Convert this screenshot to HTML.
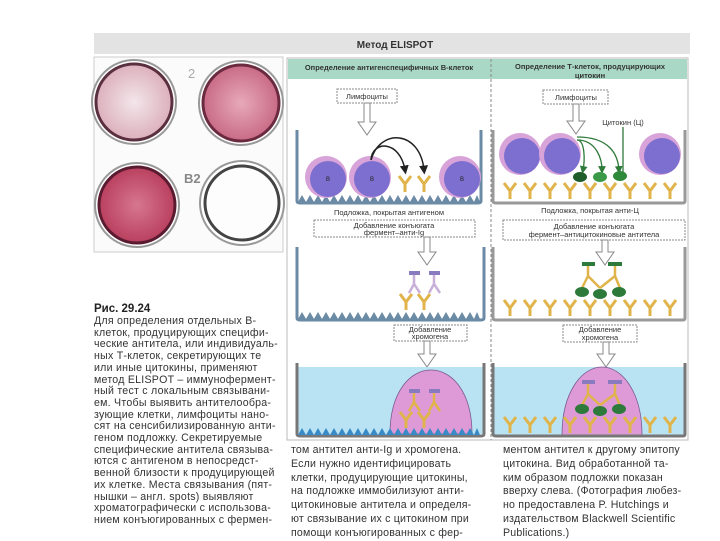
<!DOCTYPE html>
<html><head><meta charset="utf-8"><style>
html,body{margin:0;padding:0;background:#fff;}
body{width:720px;height:540px;position:relative;overflow:hidden;font-family:"Liberation Sans",sans-serif;}
.t{position:absolute;font-size:10.4px;color:#333;white-space:nowrap;}
</style></head><body>
<svg width="720" height="540" style="position:absolute;left:0;top:0" font-family="Liberation Sans, sans-serif">
<defs>
<radialGradient id="w1"><stop offset="0" stop-color="#f3e6ea"/><stop offset="1" stop-color="#dcb0bd"/></radialGradient>
<radialGradient id="w2"><stop offset="0" stop-color="#e7a9b9"/><stop offset="1" stop-color="#c96b86"/></radialGradient>
<radialGradient id="w3"><stop offset="0" stop-color="#d77690"/><stop offset="1" stop-color="#b9405f"/></radialGradient>
<marker id="ab" markerWidth="6" markerHeight="6" refX="3" refY="3" orient="auto"><path d="M0,0L6,3L0,6z" fill="#222"/></marker>
<marker id="ag" markerWidth="6" markerHeight="6" refX="3" refY="3" orient="auto"><path d="M0,0L6,3L0,6z" fill="#2e7a3a"/></marker>
<g id="Y"><path d="M0,0V-8M0,-8L-6,-16M0,-8L6,-16" stroke="#e0b44a" stroke-width="3" fill="none"/></g>
<g id="cell"><circle r="21" fill="#d8a3d8"/><circle cx="2" cy="2" r="18" fill="#7d6fcf"/></g>
<path id="wave" d="M0,0 l4,-7 l4,7 l4,-7 l4,7 l4,-7 l4,7 l4,-7 l4,7 l4,-7 l4,7 l4,-7 l4,7 l4,-7 l4,7 l4,-7 l4,7 l4,-7 l4,7 l4,-7 l4,7 l4,-7 l4,7 l4,-7 l4,7 l4,-7 l4,7 l4,-7 l4,7 l4,-7 l4,7 l4,-7 l4,7 l4,-7 l4,7 l4,-7 l4,7 l4,-7 l4,7 l4,-7 l4,7 l4,-7 l4,7 l4,-7 l4,7 l3,-7 l3,7 z"/>
</defs>
<rect x="94" y="33" width="596" height="21" fill="#e3e3e3"/>
<text x="395" y="48" font-size="10" font-weight="bold" fill="#333" text-anchor="middle">Метод ELISPOT</text>
<rect x="94" y="57" width="189" height="195" fill="#fbfbfb" stroke="#ccc"/>
<circle cx="134" cy="102" r="42" fill="#fff" stroke="#999" stroke-width="2"/>
<circle cx="134" cy="102" r="38" fill="url(#w1)" stroke="#5a3040" stroke-width="3"/>
<circle cx="241" cy="103" r="42" fill="#fff" stroke="#999" stroke-width="2"/>
<circle cx="241" cy="103" r="38" fill="url(#w2)" stroke="#6a2a40" stroke-width="3"/>
<circle cx="137" cy="205" r="42" fill="#fff" stroke="#999" stroke-width="2"/>
<circle cx="137" cy="205" r="38" fill="url(#w3)" stroke="#5a1a30" stroke-width="3"/>
<circle cx="242" cy="203" r="42" fill="#fff" stroke="#999" stroke-width="2"/>
<circle cx="242" cy="203" r="37" fill="#fdfdfd" stroke="#444" stroke-width="3"/>
<text x="188" y="78" font-size="13" fill="#aaa">2</text>
<text x="184" y="183" font-size="13" font-weight="bold" fill="#888">B2</text>
<rect x="287" y="58" width="401" height="382" fill="#fff" stroke="#bbb"/>
<rect x="288" y="59" width="399" height="20" fill="#a9d8c6"/>
<line x1="491" y1="59" x2="491" y2="440" stroke="#888" stroke-dasharray="3,2"/>
<text x="389" y="70" font-size="7.5" font-weight="bold" fill="#333" text-anchor="middle">Определение антигенспецифичных В-клеток</text>
<text x="590" y="69" font-size="7.5" font-weight="bold" fill="#333" text-anchor="middle">Определение Т-клеток, продуцирующих</text>
<text x="590" y="78" font-size="7.5" font-weight="bold" fill="#333" text-anchor="middle">цитокин</text>
<g font-size="7.5" fill="#333" text-anchor="middle">
<rect x="337" y="89" width="60" height="14" fill="#fff" stroke="#888" stroke-dasharray="2,1"/><text x="367" y="99">Лимфоциты</text>
<rect x="543" y="90" width="65" height="14" fill="#fff" stroke="#888" stroke-dasharray="2,1"/><text x="576" y="100">Лимфоциты</text>
<text x="623" y="125">Цитокин (Ц)</text>
<text x="389" y="215">Подложка, покрытая антигеном</text>
<text x="590" y="213">Подложка, покрытая анти-Ц</text>
<rect x="314" y="220" width="161" height="17" fill="#fff" stroke="#888" stroke-dasharray="2,1"/>
<text x="394" y="228">Добавление конъюгата</text><text x="394" y="235">фермент–анти-Ig</text>
<rect x="503" y="220" width="182" height="20" fill="#fff" stroke="#888" stroke-dasharray="2,1"/>
<text x="594" y="229">Добавление конъюгата</text><text x="594" y="237">фермент–антицитокиновые антитела</text>
<rect x="394" y="325" width="73" height="16" fill="#fff" stroke="#888" stroke-dasharray="2,1"/>
<text x="430" y="332">Добавление</text><text x="430" y="339">хромогена</text>
<rect x="563" y="325" width="74" height="17" fill="#fff" stroke="#888" stroke-dasharray="2,1"/>
<text x="600" y="332">Добавление</text><text x="600" y="340">хромогена</text>
</g>
<g fill="#fff" stroke="#888">
<path d="M364,103V122H358L367,135L376,122H370V103z"/>
<path d="M573,104V121H567L576,134L585,121H579V104z"/>
<path d="M424,237V252H418L427,265L436,252H430V237z"/>
<path d="M602,240V252H596L605,265L614,252H608V240z"/>
<path d="M424,341V354H418L427,367L436,354H430V341z"/>
<path d="M603,342V354H597L606,367L615,354H609V342z"/>
</g>
<!-- well 1 -->
<path d="M297,130V201Q297,203 300,203H478Q481,203 481,201V130" fill="none" stroke="#6a8aa5" stroke-width="3"/>
<use href="#wave" x="298" y="202" fill="#6a8aa5"/>
<use href="#cell" x="326" y="177"/><use href="#cell" x="370" y="177"/><use href="#cell" x="460" y="177"/>
<g font-size="6" fill="#222" text-anchor="middle"><text x="328" y="181">В</text><text x="372" y="181">В</text><text x="462" y="181">В</text>
<text x="522" y="157">Т</text><text x="562" y="157">Т</text><text x="662" y="157">Т</text></g>
<path d="M371,160C372,140 400,140 405,170" fill="none" stroke="#222" stroke-width="1.5" marker-end="url(#ab)"/>
<path d="M371,160C380,128 420,130 424,170" fill="none" stroke="#222" stroke-width="1.5" marker-end="url(#ab)"/>
<use href="#Y" x="405" y="192"/><use href="#Y" x="424" y="192"/>
<!-- well 2 right -->
<path d="M493,130V201Q493,203 496,203H683Q685,203 685,201V130" fill="none" stroke="#999" stroke-width="3"/>
<use href="#cell" x="520" y="154"/><use href="#cell" x="560" y="154"/><use href="#cell" x="660" y="154"/>
<path d="M577,140C585,140 585,160 583,170" fill="none" stroke="#2e7a3a" stroke-width="1.3" marker-end="url(#ag)"/>
<path d="M577,140C597,140 602,160 602,170" fill="none" stroke="#2e7a3a" stroke-width="1.3" marker-end="url(#ag)"/>
<path d="M577,137C610,137 618,155 619,170" fill="none" stroke="#2e7a3a" stroke-width="1.3" marker-end="url(#ag)"/>
<line x1="623" y1="127" x2="623" y2="172" stroke="#2e7a3a" stroke-width="1.3"/>
<ellipse cx="580" cy="177" rx="7" ry="5" fill="#1f5e2a"/><ellipse cx="600" cy="177" rx="7" ry="5" fill="#3a9a48"/><ellipse cx="620" cy="176" rx="7" ry="5" fill="#2e8a3a"/>
<g><use href="#Y" x="510" y="199"/><use href="#Y" x="530" y="199"/><use href="#Y" x="550" y="199"/><use href="#Y" x="570" y="199"/><use href="#Y" x="590" y="199"/><use href="#Y" x="610" y="199"/><use href="#Y" x="630" y="199"/><use href="#Y" x="650" y="199"/><use href="#Y" x="670" y="199"/></g>
<!-- middle wells -->
<path d="M297,247V318Q297,320 300,320H481Q484,320 484,318V247" fill="none" stroke="#6a8aa5" stroke-width="3"/>
<use href="#wave" x="298" y="319" fill="#6a8aa5"/>
<use href="#Y" x="406" y="310"/><use href="#Y" x="424" y="310"/>
<rect x="409" y="271" width="11" height="4" fill="#8a7ac0"/><rect x="429" y="271" width="11" height="4" fill="#8a7ac0"/>
<path d="M414,275V284L409,293M414,284L420,293M434,275V284L429,293M434,284L440,293" stroke="#c9b0d8" stroke-width="2.5" fill="none"/>
<path d="M493,247V318Q493,320 496,320H683Q685,320 685,318V247" fill="none" stroke="#999" stroke-width="3"/>
<g><use href="#Y" x="510" y="316"/><use href="#Y" x="530" y="316"/><use href="#Y" x="550" y="316"/><use href="#Y" x="570" y="316"/><use href="#Y" x="590" y="316"/><use href="#Y" x="610" y="316"/><use href="#Y" x="630" y="316"/><use href="#Y" x="650" y="316"/><use href="#Y" x="670" y="316"/></g>
<rect x="582" y="262" width="13" height="4" fill="#2e7a3a"/><rect x="608" y="262" width="14" height="4" fill="#2e7a3a"/>
<path d="M588,266V276L582,288M588,276L600,288M615,266V276L600,288M615,276L620,288" stroke="#e0b44a" stroke-width="2.5" fill="none"/>
<ellipse cx="582" cy="292" rx="7" ry="5" fill="#2e7a3a"/><ellipse cx="600" cy="294" rx="7" ry="5" fill="#2e7a3a"/><ellipse cx="619" cy="292" rx="7" ry="5" fill="#2e7a3a"/>
<!-- bottom wells -->
<rect x="298" y="367" width="185" height="67" fill="#b9e3f3"/>
<path d="M390,434C390,392 410,370 431,370C452,370 472,392 472,434z" fill="#dd9ad6" stroke="#7a5a90" stroke-width="0.8"/>
<path d="M297,363V434Q297,436 300,436H481Q484,436 484,434V363" fill="none" stroke="#777" stroke-width="3"/>
<use href="#wave" x="298" y="435" fill="#3a8ac8"/>
<use href="#Y" x="406" y="428"/><use href="#Y" x="424" y="428"/>
<rect x="409" y="389" width="11" height="4" fill="#8a7ac0"/><rect x="429" y="389" width="11" height="4" fill="#8a7ac0"/>
<path d="M414,393V402L409,411M414,402L420,411M434,393V402L429,411M434,402L440,411" stroke="#e0b44a" stroke-width="2.5" fill="none"/>
<rect x="494" y="367" width="190" height="68" fill="#b9e3f3"/>
<path d="M562,435C562,392 582,367 602,367C622,367 642,392 642,435z" fill="#dd9ad6" stroke="#7a5a90" stroke-width="0.8"/>
<path d="M493,363V434Q493,436 496,436H683Q685,436 685,434V363" fill="none" stroke="#777" stroke-width="3"/>
<g><use href="#Y" x="510" y="433"/><use href="#Y" x="530" y="433"/><use href="#Y" x="550" y="433"/><use href="#Y" x="570" y="433"/><use href="#Y" x="590" y="433"/><use href="#Y" x="610" y="433"/><use href="#Y" x="630" y="433"/><use href="#Y" x="650" y="433"/><use href="#Y" x="670" y="433"/></g>
<rect x="582" y="380" width="13" height="4" fill="#8a7ac0"/><rect x="608" y="380" width="14" height="4" fill="#8a7ac0"/>
<path d="M588,384V394L582,405M588,394L600,405M615,384V394L600,405M615,394L620,405" stroke="#e0b44a" stroke-width="2.5" fill="none"/>
<ellipse cx="582" cy="409" rx="7" ry="5" fill="#2e7a3a"/><ellipse cx="600" cy="411" rx="7" ry="5" fill="#2e7a3a"/><ellipse cx="619" cy="409" rx="7" ry="5" fill="#2e7a3a"/>
</svg>
<div class="t" style="left:94px;top:303px;font-weight:bold;font-size:11.5px;color:#222">Рис. 29.24</div>
<div class="t" style="left:94px;top:316px;line-height:11.7px;font-size:10.6px;letter-spacing:0.25px">Для определения отдельных В-<br>клеток, продуцирующих специфи-<br>ческие антитела, или индивидуаль-<br>ных Т-клеток, секретирующих те<br>или иные цитокины, применяют<br>метод ELISPOT – иммунофермент-<br>ный тест с локальным связывани-<br>ем. Чтобы выявить антителообра-<br>зующие клетки, лимфоциты нано-<br>сят на сенсибилизированную анти-<br>геном подложку. Секретируемые<br>специфические антитела связыва-<br>ются с антигеном в непосредст-<br>венной близости к продуцирующей<br>их клетке. Места связывания (пят-<br>нышки – англ. spots) выявляют<br>хроматографически с использова-<br>нием конъюгированных с фермен-</div>
<div class="t" style="left:291px;top:444px;line-height:13.8px;font-size:10.6px;letter-spacing:0.2px">том антител анти-Ig и хромогена.<br>Если нужно идентифицировать<br>клетки, продуцирующие цитокины,<br>на подложке иммобилизуют анти-<br>цитокиновые антитела и определя-<br>ют связывание их с цитокином при<br>помощи конъюгированных с фер-</div>
<div class="t" style="left:503px;top:444px;line-height:13.8px;font-size:10.6px;letter-spacing:0.2px">ментом антител к другому эпитопу<br>цитокина. Вид обработанной та-<br>ким образом подложки показан<br>вверху слева. (Фотография любез-<br>но предоставлена P. Hutchings и<br>издательством Blackwell Scientific<br>Publications.)</div>
</body></html>
